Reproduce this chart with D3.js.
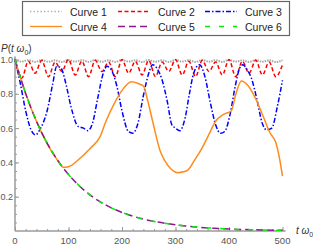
<!DOCTYPE html>
<html>
<head>
<meta charset="utf-8">
<script src="https://cdn.jsdelivr.net/npm/d3@7"></script>
<style>
  body { margin: 0; background: #fff; }
  svg { display: block; font-family: "Liberation Sans", Arial, sans-serif; }
</style>
</head>
<body>
<div id="chart"></div>
<script>
// sample times for the fast oscillating curves
const tFast = d3.range(0, 500.1, 12.5);

// Curve 1 (grey dotted, near 1)
const curve1 = [1.0, 0.988, 0.996, 0.986, 0.997, 0.987, 0.995, 0.985, 0.997, 0.988, 0.996,
  0.986, 0.997, 0.987, 0.995, 0.986, 0.997, 0.988, 0.996, 0.985, 0.997, 0.987, 0.995,
  0.986, 0.997, 0.988, 0.996, 0.985, 0.997, 0.987, 0.996, 0.986, 0.997, 0.988, 0.995,
  0.986, 0.997, 0.987, 0.996, 0.985, 0.996];

// Curve 2 (red dashed)
const curve2 = [1.0, 0.89, 0.99, 0.92, 0.995, 0.9, 0.985, 0.93, 1.0, 0.91, 0.99,
  0.9, 0.995, 0.93, 0.985, 0.9, 1.0, 0.92, 0.99, 0.91, 0.995, 0.9, 0.985,
  0.93, 1.0, 0.91, 0.99, 0.9, 0.995, 0.93, 0.985, 0.91, 1.0, 0.9, 0.99,
  0.92, 0.995, 0.91, 0.985, 0.9, 0.97];

// Curve 3 (blue dot-dash)
const t3 = [0, 10, 20, 30, 38, 48, 60, 70, 78, 86, 95, 105, 118, 128, 136, 145, 155, 165, 172,
  180, 190, 200, 212, 220, 230, 240, 250, 257, 265, 275, 285, 293, 300, 308, 318, 326, 334,
  345, 355, 365, 375, 384, 392, 402, 412, 420, 426, 434, 442, 452, 462, 470, 480, 490, 500];
const curve3 = [1.0, 0.86, 0.7, 0.59, 0.56, 0.6, 0.7, 0.85, 0.96, 0.95, 0.86, 0.72, 0.61, 0.6,
  0.585, 0.63, 0.78, 0.92, 0.96, 0.94, 0.85, 0.7, 0.58, 0.57, 0.63, 0.79, 0.92, 0.97, 0.95,
  0.88, 0.75, 0.62, 0.6, 0.585, 0.66, 0.8, 0.92, 0.97, 0.9, 0.75, 0.62, 0.57, 0.58, 0.68,
  0.85, 0.95, 0.97, 0.94, 0.89, 0.77, 0.63, 0.59, 0.6, 0.72, 0.88];

// Curve 4 (orange solid)
const t4 = [0, 20, 40, 60, 80, 90, 100, 120, 140, 159, 170, 185, 200, 218, 230, 240, 248, 258,
  271, 280, 292, 304, 315, 323, 335, 349, 362, 375, 390, 404, 413, 423, 435, 450, 465, 477,
  487, 494, 500];
const curve4 = [1.0, 0.8, 0.64, 0.51, 0.41, 0.372, 0.375, 0.42, 0.48, 0.55, 0.64, 0.74, 0.82,
  0.87, 0.86, 0.845, 0.76, 0.63, 0.47, 0.41, 0.36, 0.34, 0.345, 0.355, 0.41, 0.48, 0.56,
  0.64, 0.68, 0.7, 0.8, 0.875, 0.85, 0.77, 0.66, 0.57, 0.52, 0.43, 0.32];

// Curves 5 and 6 (decay, on top of each other)
const tDecay = d3.range(0, 501, 20);
const curve5 = [1.0, 0.801, 0.641, 0.513, 0.411, 0.329, 0.264, 0.211, 0.169, 0.135, 0.108,
  0.087, 0.069, 0.056, 0.045, 0.036, 0.029, 0.023, 0.018, 0.015, 0.012, 0.009, 0.008,
  0.006, 0.005, 0.004];
const curve6 = [1.0, 0.801, 0.641, 0.513, 0.411, 0.329, 0.264, 0.211, 0.169, 0.135, 0.108,
  0.087, 0.069, 0.056, 0.045, 0.036, 0.029, 0.023, 0.018, 0.015, 0.012, 0.009, 0.008,
  0.006, 0.005, 0.004];

const xTicks = [0, 100, 200, 300, 400, 500];
const yTicks = [0.2, 0.4, 0.6, 0.8, 1.0];
const legendNames = ["Curve 1", "Curve 2", "Curve 3", "Curve 4", "Curve 5", "Curve 6"];

const width = 313, height = 247;
const svg = d3.select("#chart").append("svg")
    .attr("width", width)
    .attr("height", height);

const x = d3.scaleLinear().domain([0, 500]).range([15, 282.5]);
const y = d3.scaleLinear().domain([0, 1]).range([231, 59.5]);

const axisColor = "#9a9a9a";
const labelColor = "#555";

// axes
const xAxis = svg.append("g").attr("transform", `translate(0,${y(0)})`)
    .call(d3.axisTop(x).tickValues(d3.range(0, 501, 20)).tickSize(2).tickFormat(""));
xAxis.append("g").call(d3.axisTop(x).tickValues(xTicks).tickSize(4).tickFormat(""));
xAxis.selectAll("path.domain").attr("d", `M${x(0)},0H${x(500) + 3}`);
xAxis.selectAll("line, path").attr("stroke", axisColor);

svg.append("g").selectAll("text").data(xTicks).join("text")
    .attr("x", d => x(d)).attr("y", 244)
    .attr("text-anchor", "middle")
    .attr("font-size", 9.5).attr("fill", labelColor)
    .text(d => d);

const yAxis = svg.append("g").attr("transform", `translate(${x(0)},0)`)
    .call(d3.axisRight(y).tickValues(d3.range(0.05, 1.001, 0.05)).tickSize(2).tickFormat(""));
yAxis.append("g").call(d3.axisRight(y).tickValues(yTicks).tickSize(4).tickFormat(""));
yAxis.selectAll("path.domain").attr("d", `M0,${y(0)}V${y(1) - 3}`);
yAxis.selectAll("line, path").attr("stroke", axisColor);

svg.append("g").selectAll("text").data(yTicks).join("text")
    .attr("x", 13).attr("y", d => y(d) + 3.5)
    .attr("text-anchor", "end")
    .attr("font-size", 9).attr("fill", labelColor)
    .text(d => d.toFixed(1));

// axis labels
const pLab = svg.append("text").attr("x", 1).attr("y", 52)
    .attr("font-size", 10).attr("fill", "#333").attr("font-style", "italic");
pLab.append("tspan").text("P");
pLab.append("tspan").attr("font-style", "normal").text("(");
pLab.append("tspan").text("t ω");
pLab.append("tspan").attr("font-size", 7).attr("dy", 2.5).attr("font-style", "normal").text("0");
pLab.append("tspan").attr("dy", -2.5).attr("font-style", "normal").text(")");

const tLab = svg.append("text").attr("x", 296).attr("y", 234)
    .attr("font-size", 10).attr("fill", "#333").attr("font-style", "italic");
tLab.append("tspan").text("t ω");
tLab.append("tspan").attr("font-size", 7).attr("dy", 2.5).attr("font-style", "normal").text("0");

// curves
const styles = [
  { color: "#a8a8a8", width: 2, dash: "1.5,1" },
  { color: "#ff0000", width: 1.5, dash: "4,2.5" },
  { color: "#0000ff", width: 1.5, dash: "5,2,1.5,2" },
  { color: "#ff8c1a", width: 1.5, dash: null },
  { color: "#8b1a8b", width: 1.5, dash: "7,4" },
  { color: "#00ee00", width: 1.5, dash: "5,9" }
];

const series = [
  { t: tFast, v: curve1 },
  { t: tFast, v: curve2 },
  { t: t3, v: curve3 },
  { t: t4, v: curve4 },
  { t: tDecay, v: curve5 },
  { t: tDecay, v: curve6 }
];

series.forEach((s, i) => {
  const line = d3.line()
      .x((d, j) => x(s.t[j]))
      .y(d => y(d))
      .curve(d3.curveMonotoneX);
  svg.append("path")
      .attr("d", line(s.v))
      .attr("fill", "none")
      .attr("stroke", styles[i].color)
      .attr("stroke-width", styles[i].width)
      .attr("stroke-dasharray", styles[i].dash);
});

// legend
svg.append("rect")
    .attr("x", 22.5).attr("y", 1.5)
    .attr("width", 267).attr("height", 34)
    .attr("fill", "#fff").attr("stroke", "#666").attr("stroke-width", 1.2);

const legX = [30, 118, 205];
const legRowY = [11.5, 26.5];
legendNames.forEach((name, i) => {
  const col = i % 3, row = Math.floor(i / 3);
  const g = svg.append("g").attr("transform", `translate(${legX[col]},${legRowY[row]})`);
  g.append("line")
      .attr("x1", 0).attr("x2", 32).attr("y1", 0).attr("y2", 0)
      .attr("stroke", styles[i].color)
      .attr("stroke-width", 1.3)
      .attr("stroke-dasharray", i === 0 ? "1.3,2.2" : styles[i].dash);
  g.append("text")
      .attr("x", 40).attr("y", 4)
      .attr("font-size", 10.5).attr("fill", "#222")
      .text(name);
});
</script>
</body>
</html>
